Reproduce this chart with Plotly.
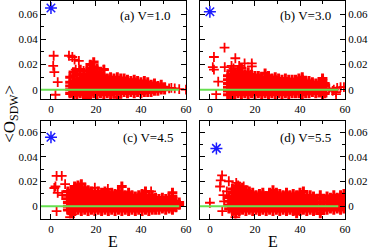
import plotly.graph_objects as go

# ---------------- data ----------------
panel_labels = ["(a) V=1.0", "(b) V=3.0", "(c) V=4.5", "(d) V=5.5"]

# ground state points (blue asterisks)
ground_E = [0.0, 0.0, 0.0, 2.9]
ground_O = [0.065, 0.062, 0.056, 0.047]

# green reference line at zero
zero_E = [-4.5, 57.0]
zero_O = [0.0, 0.0]

# excited-state clouds: (E, [O values]) columns
cloud_a = [
    (8.5, [-0.003, 0.000, 0.003, 0.006, 0.010]),
    (10, [-0.005, -0.002, 0.001, 0.004, 0.007, 0.011, 0.014]),
    (11.5, [-0.004, -0.001, 0.002, 0.005, 0.008, 0.012]),
    (13, [-0.003, 0.000, 0.003, 0.006, 0.009, 0.012, 0.016]),
    (14.5, [-0.004, -0.001, 0.002, 0.005, 0.008, 0.011]),
    (16, [-0.006, -0.003, 0.000, 0.003, 0.006, 0.009, 0.012, 0.015]),
    (17.5, [-0.004, -0.001, 0.002, 0.005, 0.008, 0.011, 0.014, 0.017, 0.020]),
    (19, [-0.003, 0.000, 0.003, 0.006, 0.009, 0.012, 0.015, 0.018, 0.022]),
    (20.5, [-0.004, -0.001, 0.002, 0.005, 0.008, 0.011, 0.014, 0.017]),
    (22, [-0.003, 0.000, 0.003, 0.006, 0.009, 0.012]),
    (23.5, [-0.004, -0.001, 0.002, 0.005, 0.008, 0.011, 0.016]),
    (25, [-0.003, 0.000, 0.003, 0.006, 0.009]),
    (26.5, [-0.004, -0.001, 0.002, 0.005, 0.008, 0.010]),
    (28, [-0.003, 0.000, 0.003, 0.006, 0.009]),
    (29.5, [-0.006, -0.002, 0.001, 0.004, 0.007, 0.010]),
    (31, [-0.003, 0.000, 0.003, 0.006, 0.009]),
    (32.5, [-0.002, 0.001, 0.004, 0.007, 0.009]),
    (34, [-0.003, 0.000, 0.003, 0.006, 0.008]),
    (35.5, [-0.002, 0.001, 0.004, 0.007]),
    (37, [-0.003, 0.000, 0.003, 0.006, 0.008]),
    (38.5, [-0.002, 0.001, 0.004, 0.007]),
    (40, [-0.003, 0.000, 0.003, 0.006]),
    (41.5, [-0.002, 0.001, 0.004, 0.007]),
    (43, [-0.002, 0.000, 0.003, 0.006]),
    (44.5, [-0.002, 0.001, 0.004]),
    (46, [-0.001, 0.001, 0.003, 0.005]),
    (47.5, [-0.001, 0.001, 0.003]),
    (49, [0.000, 0.002, 0.004]),
    (50.5, [0.000, 0.002]),
]
extra_a = [(1.2, 0.027), (1.0, 0.019), (1.5, 0.014), (3.0, 0.006), (2.0, -0.004),
           (8.0, 0.027), (9.5, 0.026), (10.5, 0.024), (12.4, 0.023), (11.0, 0.016),
           (12.5, 0.015), (14.5, 0.015), (23.6, 0.016), (21.5, 0.014), (16.0, -0.007),
           (10.0, -0.005), (52.5, 0.001), (55.0, 0.001), (57.0, 0.0005), (60.0, 0.0),
           (53.5, 0.0015)]

cloud_b = [
    (8, [-0.004, -0.001, 0.002, 0.005, 0.008, 0.011]),
    (9.5, [-0.006, -0.003, 0.000, 0.003, 0.006, 0.009, 0.012, 0.015]),
    (11, [-0.004, -0.001, 0.002, 0.005, 0.008, 0.011, 0.014]),
    (12.5, [-0.003, 0.000, 0.003, 0.006, 0.009, 0.012, 0.015]),
    (14, [-0.004, -0.001, 0.002, 0.005, 0.008, 0.011, 0.014, 0.017]),
    (15.5, [-0.003, 0.000, 0.003, 0.006, 0.009, 0.012]),
    (17, [-0.004, -0.001, 0.002, 0.005, 0.008, 0.011, 0.014]),
    (18.5, [-0.003, 0.000, 0.003, 0.006, 0.009, 0.012]),
    (20, [-0.004, -0.001, 0.002, 0.005, 0.008, 0.011]),
    (21.5, [-0.003, 0.000, 0.003, 0.006, 0.009, 0.011]),
    (23, [-0.004, -0.001, 0.002, 0.005, 0.008, 0.010]),
    (24.5, [-0.003, 0.000, 0.003, 0.006, 0.009, 0.013]),
    (26, [-0.004, -0.001, 0.002, 0.005, 0.008, 0.011]),
    (27.5, [-0.003, 0.000, 0.003, 0.006, 0.009]),
    (29, [-0.004, -0.001, 0.002, 0.005, 0.008, 0.010]),
    (30.5, [-0.003, 0.000, 0.003, 0.006, 0.009]),
    (32, [-0.004, -0.001, 0.002, 0.005, 0.008]),
    (33.5, [-0.003, 0.000, 0.003, 0.006, 0.009]),
    (35, [-0.004, -0.001, 0.002, 0.005, 0.008]),
    (36.5, [-0.003, 0.000, 0.003, 0.006, 0.008]),
    (38, [-0.003, -0.001, 0.002, 0.005, 0.008]),
    (39.5, [-0.003, 0.000, 0.003, 0.006, 0.009]),
    (41, [-0.004, -0.001, 0.002, 0.005, 0.008, 0.010]),
    (42.5, [-0.003, 0.000, 0.003, 0.006]),
    (44, [-0.003, -0.001, 0.002, 0.005, 0.007]),
    (45.5, [-0.002, 0.001, 0.004, 0.006]),
    (47, [-0.003, 0.000, 0.003, 0.005]),
    (48.5, [-0.002, 0.001, 0.004, 0.006]),
    (50, [-0.005, -0.002, 0.001, 0.004, 0.007, 0.009]),
    (51, [-0.003, 0.000, 0.003, 0.005]),
]
extra_b = [(6.5, 0.0334), (1.8, 0.026), (1.3, 0.018), (1.8, 0.016), (3.7, 0.0064),
           (2.8, -0.0035), (11.3, 0.025), (6.6, 0.018), (9.6, 0.019), (15.4, 0.021),
           (18.6, 0.0186), (18.6, 0.021), (13.0, 0.019), (10.5, 0.017), (9.6, -0.008),
           (53.0, 0.001), (55.0, 0.0), (56.0, -0.0035), (56.5, 0.0015), (58.0, 0.002),
           (59.5, 0.002), (54.5, -0.001), (56.0, -0.002)]

cloud_c = [
    (7.5, [-0.003, 0.000, 0.003, 0.006, 0.009, 0.012]),
    (9, [-0.005, -0.002, 0.001, 0.004, 0.007, 0.010, 0.013]),
    (10.5, [-0.004, -0.001, 0.002, 0.005, 0.008, 0.011, 0.014, 0.016]),
    (12, [-0.003, 0.000, 0.003, 0.006, 0.009, 0.012, 0.015, 0.017]),
    (13.5, [-0.004, -0.001, 0.002, 0.005, 0.008, 0.011, 0.014, 0.018]),
    (15, [-0.003, 0.000, 0.003, 0.006, 0.009, 0.012, 0.015]),
    (16.5, [-0.004, -0.001, 0.002, 0.005, 0.008, 0.011, 0.013]),
    (18, [-0.003, 0.000, 0.003, 0.006, 0.009, 0.012]),
    (19.5, [-0.004, -0.001, 0.002, 0.005, 0.008, 0.011]),
    (21, [-0.003, 0.000, 0.003, 0.006, 0.009, 0.012]),
    (22.5, [-0.004, -0.001, 0.002, 0.005, 0.008, 0.011]),
    (24, [-0.003, 0.000, 0.003, 0.006, 0.009, 0.012]),
    (25.5, [-0.004, -0.001, 0.002, 0.005, 0.008, 0.010]),
    (27, [-0.003, 0.000, 0.003, 0.006, 0.009, 0.011]),
    (28.5, [-0.004, -0.001, 0.002, 0.005, 0.008, 0.010]),
    (30, [-0.003, 0.000, 0.003, 0.006, 0.009, 0.012]),
    (31.5, [-0.004, -0.001, 0.002, 0.005, 0.008, 0.011, 0.016]),
    (33, [-0.003, 0.000, 0.003, 0.006, 0.009]),
    (34.5, [-0.004, -0.001, 0.002, 0.005, 0.008, 0.011]),
    (36, [-0.003, 0.000, 0.003, 0.006, 0.009]),
    (37.5, [-0.004, -0.001, 0.002, 0.005, 0.008]),
    (39, [-0.003, 0.000, 0.003, 0.006, 0.009]),
    (40.5, [-0.004, -0.001, 0.002, 0.005, 0.008, 0.010]),
    (42, [-0.003, 0.000, 0.003, 0.006, 0.009, 0.012]),
    (43.5, [-0.004, -0.001, 0.002, 0.005, 0.008]),
    (45, [-0.003, 0.000, 0.003, 0.006, 0.009]),
    (46.5, [-0.003, -0.001, 0.002, 0.005, 0.007]),
    (48, [-0.003, 0.000, 0.003, 0.006]),
    (49.5, [-0.002, 0.001, 0.004, 0.007]),
    (51, [-0.003, 0.000, 0.003, 0.006]),
    (52.5, [-0.002, 0.001, 0.004, 0.007]),
    (54, [-0.003, 0.000, 0.003, 0.006, 0.008, 0.011]),
    (55.5, [-0.001, 0.001, 0.004]),
    (57, [0.001, 0.003]),
]
extra_c = [(2.5, 0.0247), (4.8, 0.0247), (1.5, 0.0148), (2.0, 0.016), (6.3, 0.018),
           (3.0, 0.0108), (5.0, 0.009), (2.5, -0.004), (9.5, -0.0067), (8.5, -0.009),
           (19.5, 0.015), (25.3, 0.014), (44.5, 0.012), (7.0, 0.006)]

cloud_d = [
    (8.5, [-0.002, 0.001, 0.004, 0.007]),
    (10, [-0.004, -0.001, 0.002, 0.005, 0.008, 0.011, 0.014]),
    (11.5, [-0.006, -0.003, 0.000, 0.003, 0.006, 0.009, 0.012, 0.015]),
    (13, [-0.004, -0.001, 0.002, 0.005, 0.008, 0.011, 0.014, 0.016]),
    (14.5, [-0.003, 0.000, 0.003, 0.006, 0.009, 0.012, 0.015]),
    (16, [-0.004, -0.001, 0.002, 0.005, 0.008, 0.011, 0.013]),
    (17.5, [-0.003, 0.000, 0.003, 0.006, 0.009, 0.012]),
    (19, [-0.004, -0.001, 0.002, 0.005, 0.008, 0.011]),
    (20.5, [-0.003, 0.000, 0.003, 0.006, 0.009]),
    (22, [-0.004, -0.001, 0.002, 0.005, 0.008, 0.010]),
    (23.5, [-0.003, 0.000, 0.003, 0.006, 0.009, 0.011]),
    (25, [-0.004, -0.001, 0.002, 0.005, 0.008]),
    (26.5, [-0.003, 0.000, 0.003, 0.006, 0.009, 0.011]),
    (28, [-0.004, -0.001, 0.002, 0.005, 0.008, 0.010, 0.013]),
    (29.5, [-0.003, 0.000, 0.003, 0.006, 0.009, 0.011]),
    (31, [-0.004, -0.001, 0.002, 0.005, 0.008, 0.010]),
    (32.5, [-0.003, 0.000, 0.003, 0.006, 0.009]),
    (34, [-0.004, -0.001, 0.002, 0.005, 0.008, 0.011]),
    (35.5, [-0.003, 0.000, 0.003, 0.006, 0.009]),
    (37, [-0.004, -0.001, 0.002, 0.005, 0.008, 0.010]),
    (38.5, [-0.006, -0.003, 0.000, 0.003, 0.006, 0.009]),
    (40, [-0.004, -0.001, 0.002, 0.005, 0.008, 0.011]),
    (41.5, [-0.003, 0.000, 0.003, 0.006, 0.009, 0.012]),
    (43, [-0.004, -0.001, 0.002, 0.005, 0.008]),
    (44.5, [-0.003, 0.000, 0.003, 0.006, 0.009]),
    (46, [-0.004, -0.001, 0.002, 0.005, 0.008]),
    (47.5, [-0.003, 0.000, 0.003, 0.006]),
    (49, [-0.006, -0.003, 0.000, 0.003, 0.006, 0.009]),
    (50.5, [-0.003, 0.000, 0.003, 0.006]),
    (52, [-0.003, 0.000, 0.003, 0.006, 0.008]),
    (53.5, [-0.002, 0.001, 0.004, 0.007]),
    (55, [-0.003, 0.000, 0.003, 0.006, 0.009]),
    (56.5, [-0.002, 0.001, 0.004, 0.007]),
    (58, [-0.003, 0.000, 0.003, 0.006, 0.009]),
    (59.5, [-0.002, 0.001, 0.004, 0.007, 0.010]),
]
extra_d = [(0.0, 0.0028), (5.4, 0.025), (4.8, 0.021), (4.5, 0.016), (8.4, 0.0203),
           (11.7, 0.019), (6.0, 0.009), (6.3, 0.004), (5.5, -0.004), (11.3, -0.009),
           (7.5, 0.012), (12.5, 0.017), (15.0, 0.016)]

clouds = [cloud_a, cloud_b, cloud_c, cloud_d]
extras = [extra_a, extra_b, extra_c, extra_d]

# ---------------- figure ----------------
W, H = 374, 250
FONT = "Liberation Serif, Times New Roman, serif"
RED = "#ff0000"
GREEN = "#66e050"
BLUE = "#1a1aff"

xdom = [[41.5 / W, 189 / W], [203 / W, 350.7 / W]]
ydom_top = [1 - 99 / H, 1 - 0.7 / H]
ydom_bot = [1 - 218.5 / H, 1 - 120.7 / H]

fig = go.Figure()
layout = dict(
    width=W, height=H, margin=dict(l=0, r=0, t=0, b=0),
    paper_bgcolor="white", plot_bgcolor="white", showlegend=False,
    font=dict(family=FONT, size=11, color="black"),
)

label_pos = [(54, 0.059), (54.5, 0.059), (55.2, 0.0557), (54.5, 0.0557)]
annotations = []
shapes = []
for i in range(4):
    row, col = divmod(i, 2)
    xa = "x" if i == 0 else f"x{i+1}"
    ya = "y" if i == 0 else f"y{i+1}"
    xs, ys = [], []
    for e, vals in clouds[i]:
        for v in vals:
            xs.append(e)
            ys.append(v)
    fig.add_trace(go.Scatter(
        x=xs, y=ys, mode="markers", xaxis=xa, yaxis=ya,
        marker=dict(symbol="cross-thin", size=7, color=RED,
                    line=dict(color=RED, width=3))))
    fig.add_trace(go.Scatter(
        x=[p[0] for p in extras[i]], y=[p[1] for p in extras[i]], mode="markers",
        xaxis=xa, yaxis=ya,
        marker=dict(symbol="cross-thin", size=7, color=RED,
                    line=dict(color=RED, width=1.8))))
    fig.add_trace(go.Scatter(
        x=[ground_E[i]], y=[ground_O[i]], mode="markers", xaxis=xa, yaxis=ya,
        marker=dict(symbol="asterisk", size=10, color=BLUE,
                    line=dict(color=BLUE, width=1.5))))
    shapes.append(dict(type="line", xref=xa, yref=ya, x0=zero_E[0], x1=zero_E[1],
                       y0=zero_O[0], y1=zero_O[1], layer="above",
                       line=dict(color=GREEN, width=2)))

    axis_common = dict(showline=True, linecolor="black", linewidth=1, mirror="ticks",
                       ticks="inside", ticklen=5, tickcolor="black", showgrid=False,
                       zeroline=False, tickfont=dict(family=FONT, size=11, color="black"))
    xkey = "xaxis" if i == 0 else f"xaxis{i+1}"
    ykey = "yaxis" if i == 0 else f"yaxis{i+1}"
    layout[xkey] = dict(axis_common, domain=xdom[col], range=[-4.5, 60],
                        tickvals=[0, 20, 40, 60], anchor=ya,
                        minor=dict(tickvals=[10, 30, 50], ticks="inside", ticklen=3,
                                   tickcolor="black"))
    yr = [-0.0074, 0.0708] if row == 0 else [-0.01, 0.0695]
    layout[ykey] = dict(axis_common, domain=ydom_top if row == 0 else ydom_bot,
                        range=yr, tickvals=[0, 0.02, 0.04, 0.06],
                        ticktext=["0", "0.02", "0.04", "0.06"], anchor=xa,
                        side="left" if col == 0 else "right",
                        minor=dict(tickvals=[-0.01, 0.01, 0.03, 0.05], ticks="inside",
                                   ticklen=3, tickcolor="black"))
    lx, ly = label_pos[i]
    annotations.append(dict(text=panel_labels[i], x=lx, y=ly, xref=xa, yref=ya,
                            xanchor="right", yanchor="middle", showarrow=False,
                            font=dict(family=FONT, size=13, color="black")))

annotations.append(dict(text="&lt;O<sub>SDW</sub>&gt;", x=11 / W, y=1 - 114 / H,
                        xref="paper", yref="paper", textangle=-90, showarrow=False,
                        xanchor="center", yanchor="middle",
                        font=dict(family=FONT, size=17, color="black")))
for cx in [115, 277]:
    annotations.append(dict(text="E", x=cx / W, y=1 - 241 / H, xref="paper", yref="paper",
                            showarrow=False, xanchor="center", yanchor="middle",
                            font=dict(family=FONT, size=16, color="black")))
layout["annotations"] = annotations
layout["shapes"] = shapes
fig.update_layout(**layout)
fig.write_html("out.html", config={"displayModeBar": False},
               post_script="document.body.style.margin='0px';document.body.style.padding='0px';")
